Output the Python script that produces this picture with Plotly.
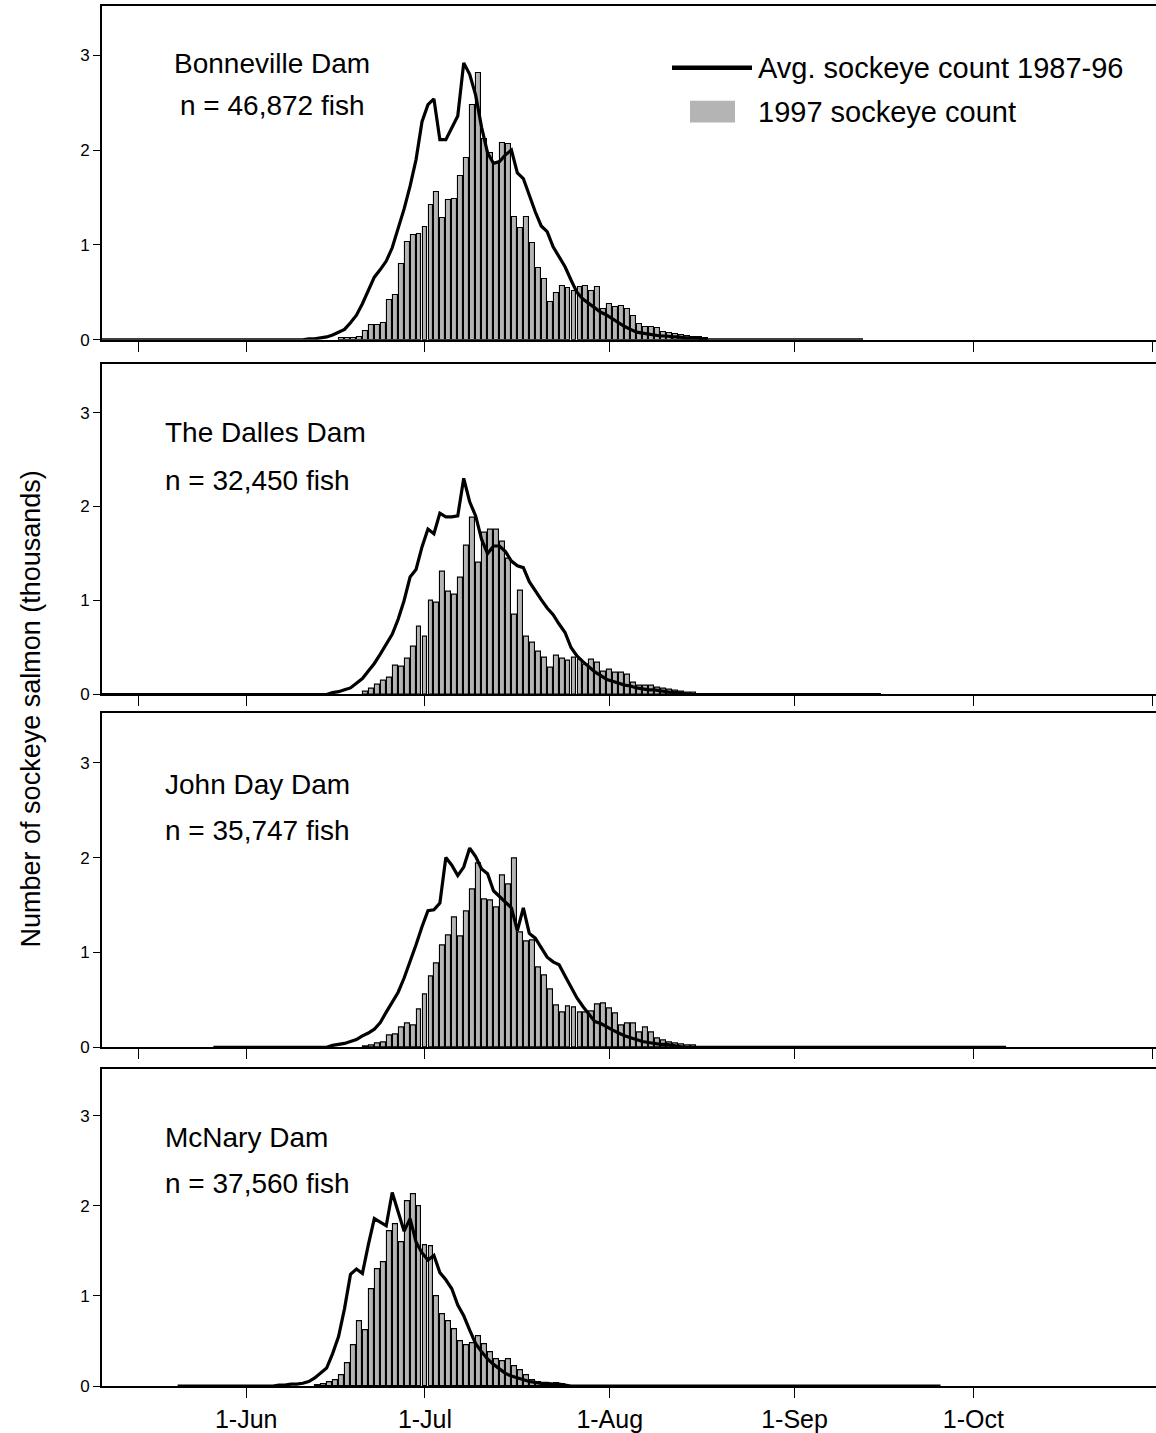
import pandas as pd
import plotly.graph_objects as go

# ---------------- data (thousands of fish per day) ----------------
PANELS = ["Bonneville Dam", "The Dalles Dam", "John Day Dam", "McNary Dam"]
TOTALS = ["n = 46,872 fish", "n = 32,450 fish", "n = 35,747 fish", "n = 37,560 fish"]

# 1997 daily counts (bars)
BON_1997_START = "1997-06-17"
BON_1997 = [0.02, 0.02, 0.02, 0.03, 0.09, 0.16, 0.16, 0.18, 0.42, 0.47, 0.80, 1.03, 1.11, 1.12,
            1.19, 1.42, 1.56, 1.28, 1.47, 1.48, 1.73, 1.92, 2.48, 2.81, 2.12, 1.97, 1.86, 2.08,
            2.06, 1.29, 1.18, 1.29, 1.02, 0.76, 0.64, 0.40, 0.49, 0.57, 0.55, 0.51, 0.56, 0.57,
            0.51, 0.56, 0.33, 0.38, 0.35, 0.36, 0.32, 0.25, 0.17, 0.14, 0.14, 0.12, 0.08, 0.07,
            0.06, 0.05, 0.04, 0.03, 0.03, 0.02]
THD_1997_START = "1997-06-21"
THD_1997 = [0.03, 0.06, 0.10, 0.15, 0.18, 0.31, 0.30, 0.38, 0.51, 0.72, 0.61, 1.00, 0.98, 1.31,
            1.09, 1.06, 1.24, 1.58, 1.88, 1.40, 1.72, 1.75, 1.75, 1.63, 1.45, 0.85, 1.10, 0.62,
            0.55, 0.46, 0.39, 0.28, 0.41, 0.38, 0.36, 0.39, 0.37, 0.32, 0.37, 0.34, 0.24, 0.26,
            0.23, 0.23, 0.21, 0.13, 0.09, 0.09, 0.09, 0.07, 0.06, 0.05, 0.04, 0.03, 0.02, 0.02]
JDA_1997_START = "1997-06-21"
JDA_1997 = [0.01, 0.02, 0.04, 0.05, 0.12, 0.13, 0.21, 0.25, 0.23, 0.40, 0.56, 0.75, 0.88, 1.07,
            1.18, 1.37, 1.17, 1.43, 1.66, 1.94, 1.56, 1.55, 1.47, 1.81, 1.72, 1.99, 1.21, 1.12,
            1.13, 0.84, 0.76, 0.61, 0.44, 0.37, 0.43, 0.42, 0.37, 0.37, 0.38, 0.45, 0.46, 0.41,
            0.36, 0.23, 0.25, 0.25, 0.16, 0.21, 0.16, 0.09, 0.07, 0.05, 0.04, 0.03, 0.02, 0.02]
MCN_1997_START = "1997-06-13"
MCN_1997 = [0.01, 0.02, 0.04, 0.06, 0.12, 0.25, 0.45, 0.72, 0.62, 1.08, 1.30, 1.38, 1.72, 1.80,
            1.60, 2.05, 2.13, 2.00, 1.57, 1.55, 1.00, 0.80, 0.72, 0.63, 0.50, 0.45, 0.48, 0.55,
            0.47, 0.38, 0.30, 0.28, 0.30, 0.22, 0.18, 0.12, 0.06, 0.04, 0.03, 0.02, 0.03, 0.02]

# 1987-96 average daily counts (line); outside the read part the curve lies on zero
BON_AVG_START = "1997-06-11"
BON_AVG = [0.01, 0.01, 0.02, 0.03, 0.05, 0.08, 0.11, 0.18, 0.26, 0.38, 0.52, 0.66, 0.74, 0.83,
           0.97, 1.18, 1.38, 1.62, 1.90, 2.30, 2.48, 2.54, 2.11, 2.11, 2.24, 2.36, 2.92, 2.80,
           2.58, 2.24, 1.97, 1.86, 1.88, 1.95, 2.00, 1.76, 1.70, 1.52, 1.35, 1.20, 1.14, 0.98,
           0.87, 0.77, 0.63, 0.50, 0.43, 0.38, 0.33, 0.29, 0.26, 0.22, 0.18, 0.14, 0.11, 0.08,
           0.07, 0.06, 0.05, 0.04, 0.04, 0.03, 0.03, 0.02, 0.02, 0.02, 0.01]
BON_AVG_SPAN = ("1997-05-07", "1997-09-12")
THD_AVG_START = "1997-06-15"
THD_AVG = [0.02, 0.03, 0.05, 0.07, 0.12, 0.17, 0.25, 0.33, 0.43, 0.53, 0.64, 0.80, 1.00, 1.25,
           1.33, 1.57, 1.76, 1.71, 1.93, 1.89, 1.89, 1.90, 2.30, 2.05, 1.90, 1.65, 1.50, 1.58,
           1.58, 1.52, 1.42, 1.37, 1.35, 1.20, 1.10, 1.01, 0.92, 0.85, 0.75, 0.66, 0.50, 0.41,
           0.35, 0.29, 0.24, 0.20, 0.16, 0.14, 0.12, 0.10, 0.09, 0.07, 0.06, 0.05, 0.05, 0.04,
           0.03, 0.02, 0.02, 0.01]
THD_AVG_SPAN = ("1997-05-07", "1997-09-15")
JDA_AVG_START = "1997-06-15"
JDA_AVG = [0.02, 0.03, 0.04, 0.06, 0.08, 0.12, 0.15, 0.19, 0.26, 0.37, 0.48, 0.58, 0.73, 0.90,
           1.08, 1.27, 1.44, 1.45, 1.52, 2.00, 1.92, 1.81, 1.90, 2.10, 2.01, 1.88, 1.83, 1.65,
           1.59, 1.52, 1.47, 1.23, 1.47, 1.20, 1.15, 1.05, 0.95, 0.90, 0.87, 0.75, 0.63, 0.52,
           0.43, 0.35, 0.27, 0.25, 0.21, 0.18, 0.15, 0.12, 0.10, 0.08, 0.06, 0.05, 0.04, 0.03,
           0.03, 0.02, 0.01]
JDA_AVG_SPAN = ("1997-05-26", "1997-10-06")
MCN_AVG_START = "1997-06-06"
MCN_AVG = [0.01, 0.01, 0.02, 0.02, 0.03, 0.05, 0.09, 0.14, 0.20, 0.36, 0.55, 0.86, 1.24, 1.30,
           1.25, 1.57, 1.86, 1.82, 1.78, 2.15, 1.93, 1.72, 1.86, 1.60, 1.48, 1.40, 1.45, 1.26,
           1.18, 1.08, 0.90, 0.78, 0.62, 0.47, 0.38, 0.30, 0.24, 0.19, 0.14, 0.11, 0.09, 0.07,
           0.05, 0.04, 0.03, 0.03, 0.02, 0.02, 0.01]
MCN_AVG_SPAN = ("1997-05-20", "1997-09-25")

BARS = [(BON_1997_START, BON_1997), (THD_1997_START, THD_1997),
        (JDA_1997_START, JDA_1997), (MCN_1997_START, MCN_1997)]
LINES = [(BON_AVG_START, BON_AVG, BON_AVG_SPAN), (THD_AVG_START, THD_AVG, THD_AVG_SPAN),
         (JDA_AVG_START, JDA_AVG, JDA_AVG_SPAN), (MCN_AVG_START, MCN_AVG, MCN_AVG_SPAN)]

TICK_DATES = ["1997-05-14", "1997-06-01", "1997-07-01", "1997-08-01",
              "1997-09-01", "1997-10-01", "1997-10-31"]
TICK_TEXT = ["", "1-Jun", "1-Jul", "1-Aug", "1-Sep", "1-Oct", ""]
BOTTOM_TICK_DATES = TICK_DATES[1:6]
BOTTOM_TICK_TEXT = TICK_TEXT[1:6]
Y_TICKS = [0, 1, 2, 3]
LEGEND_LINE = "Avg. sockeye count 1987-96"
LEGEND_BAR = "1997 sockeye count"
Y_TITLE = "Number of sockeye salmon (thousands)"

# ---------------- layout geometry (pixels) ----------------
W, H = 1156, 1433
ML, MR, MT, MB = 102, 0, 0, 42
PW, PH = W - ML - MR, H - MT - MB
X_RANGE = ["1997-05-07 19:26", "1997-10-31 15:36"]
Y_RANGE = [0, 3.52]
PANEL_PX = [(6, 341), (365, 697), (716, 1051), (1073, 1391)]   # top, bottom
FONT = "Liberation Sans, Arial, Helvetica, sans-serif"
BAR_GRAY = "#b4b4b4"
LABEL_SIZE = 28
LEGEND_SIZE = 29


def px(x):
    return (x - ML) / PW


def py(y):
    return (MT + PH - y) / PH


fig = go.Figure()
DAY_MS = 86400000

for i in range(4):
    sfx = "" if i == 0 else str(i + 1)
    start, vals = BARS[i]
    bx = pd.date_range(start, periods=len(vals), freq="D")
    fig.add_trace(go.Bar(x=bx, y=vals, width=0.82 * DAY_MS,
                         marker=dict(color=BAR_GRAY, line=dict(color="black", width=1.1)),
                         xaxis="x" + sfx, yaxis="y" + sfx, showlegend=False,
                         name=LEGEND_BAR))
    lstart, lvals, span = LINES[i]
    full = pd.Series(0.0, index=pd.date_range(span[0], span[1], freq="D"))
    part = pd.Series(lvals, index=pd.date_range(lstart, periods=len(lvals), freq="D"))
    full.loc[part.index] = part.values
    fig.add_trace(go.Scatter(x=full.index + pd.Timedelta(hours=12), y=full.values,
                             mode="lines", line=dict(color="black", width=3.2),
                             xaxis="x" + sfx, yaxis="y" + sfx, showlegend=False,
                             name=LEGEND_LINE))

    top, bot = PANEL_PX[i]
    last = i == 3
    fig.update_layout({
        "xaxis" + sfx: dict(
            type="date", range=X_RANGE, domain=[0, 1], anchor="y" + sfx,
            showline=True, linecolor="black", linewidth=1.6, mirror=True,
            ticks="outside", ticklen=10, tickwidth=1.4, tickcolor="black",
            tickvals=BOTTOM_TICK_DATES if last else TICK_DATES,
            ticktext=BOTTOM_TICK_TEXT if last else TICK_TEXT,
            showticklabels=last, showgrid=False, zeroline=False,
            tickfont=dict(family=FONT, size=25, color="black"), ticklabelstandoff=0),
        "yaxis" + sfx: dict(
            range=Y_RANGE, domain=[py(bot), py(top)], anchor="x" + sfx,
            showline=True, linecolor="black", linewidth=1.6,
            ticks="outside", ticklen=7, tickwidth=1.2, tickcolor="black",
            tickvals=Y_TICKS, showgrid=False, zeroline=False,
            tickfont=dict(family=FONT, size=17, color="black")),
    })

# panel labels
label_pos = [((272, 64), (272, 106), "center"), ((163, 434), (163, 482), "left"),
             ((163, 787), (163, 833), "left"), ((163, 1142), (163, 1188), "left")]
for i, ((x1, y1), (x2, y2), anc) in enumerate(label_pos):
    fig.add_annotation(x=px(x1), y=py(y1), xref="paper", yref="paper", text=PANELS[i],
                       showarrow=False, xanchor=anc, yanchor="middle",
                       font=dict(family=FONT, size=LABEL_SIZE, color="black"))
    fig.add_annotation(x=px(x2), y=py(y2), xref="paper", yref="paper", text=TOTALS[i],
                       showarrow=False, xanchor=anc, yanchor="middle",
                       font=dict(family=FONT, size=LABEL_SIZE, color="black"))

# legend (drawn in the top panel)
fig.add_shape(type="line", xref="paper", yref="paper", x0=px(672), x1=px(752),
              y0=py(68), y1=py(68), line=dict(color="black", width=4.5))
fig.add_shape(type="rect", xref="paper", yref="paper", x0=px(690), x1=px(735),
              y0=py(123), y1=py(101), fillcolor=BAR_GRAY, line=dict(width=0))
fig.add_annotation(x=px(756), y=py(68), xref="paper", yref="paper", text=LEGEND_LINE,
                   showarrow=False, xanchor="left", yanchor="middle",
                   font=dict(family=FONT, size=LEGEND_SIZE, color="black"))
fig.add_annotation(x=px(756), y=py(112), xref="paper", yref="paper", text=LEGEND_BAR,
                   showarrow=False, xanchor="left", yanchor="middle",
                   font=dict(family=FONT, size=LEGEND_SIZE, color="black"))

# y-axis title
fig.add_annotation(x=px(31), y=py(712), xref="paper", yref="paper", text=Y_TITLE,
                   textangle=-90, showarrow=False, xanchor="center", yanchor="middle",
                   font=dict(family=FONT, size=27, color="black"))

fig.update_layout(width=W, height=H, margin=dict(l=ML, r=MR, t=MT, b=MB),
                  paper_bgcolor="white", plot_bgcolor="white", showlegend=False,
                  bargap=0)

fig.write_html("out.html")
